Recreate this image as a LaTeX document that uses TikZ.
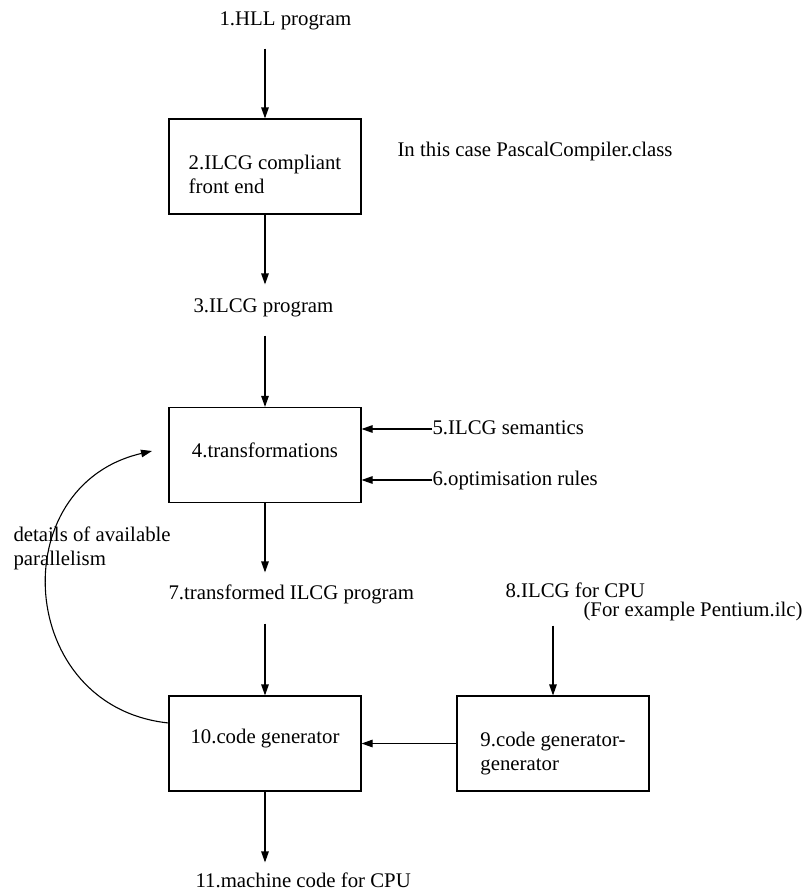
\documentclass[tikz,border=0pt]{standalone}
\usepackage{fontspec}
\setmainfont{Liberation Serif}
\usetikzlibrary{arrows.meta}

\begin{document}
\begin{tikzpicture}[x=1pt, y=-1pt, line width=1.1pt,
  >={Triangle[length=11pt,width=7.5pt]},
  lbl/.style={inner sep=0pt, anchor=base west, text height=14.5pt, text depth=4.5pt,
    font=\fontsize{20.8}{24}\selectfont},
  note/.style={inner sep=0pt, anchor=north west, align=left,
    font=\fontsize{20.8}{24}\selectfont},
  box/.style={draw, minimum width=192pt, minimum height=95pt, inner sep=0pt, align=left,
    font=\fontsize{20.8}{24}\selectfont}]
\useasboundingbox (0,0) rectangle (807,892);
% boxes
\node [box] (b2) at (265,166.5) {\rule{0pt}{29.5pt}2.ILCG compliant\\front end};
\node [box, text depth=10.2pt] (b4) at (265,455) {4.transformations};
\node [box, text depth=15pt] (b10) at (265,743.5) {10.code generator};
\node [box] (b9) at (553,743.5) {\rule{0pt}{35pt}9.code generator-\\generator};
% texts
\node [lbl] (hll) at (219,25) {1.HLL program};
\node [lbl] (pc) at (397,156) {In this case PascalCompiler.class};
\node [lbl] (ilcg) at (193,312) {3.ILCG program};
\node [lbl] (sem) at (432,434) {5.ILCG semantics};
\node [lbl] (opt) at (432,485) {6.optimisation rules};
\node [lbl] (tilcg) at (168,599) {7.transformed ILCG program};
\node [lbl] (cpu) at (505,597) {8.ILCG for CPU};
\node [lbl] (pent) at (583,616) {(For example Pentium.ilc)};
\node [lbl] (mc) at (195,887) {11.machine code for CPU};
\node [note] (par) at (13,525.8) {details of available\\parallelism};
\coordinate (fb) at (152,451);
% arrows
\draw [->, shorten <=18.5pt] (hll.south -| b2.north) -- (b2.north);
\draw [->, shorten >=12.5pt] (b2.south) -- (ilcg.north -| b2.south);
\draw [->, shorten <=18.5pt] (ilcg.south -| b4.north) -- (b4.north);
\draw [->] (sem.west) -- (sem.west -| b4.east);
\draw [->] (opt.west) -- (opt.west -| b4.east);
\draw [->, shorten >=11.5pt] (b4.south) -- (tilcg.north -| b4.south);
\draw [->, shorten <=19.5pt] (tilcg.south -| b10.north) -- (b10.north);
\draw [->, shorten <=23.5pt] (cpu.south -| b9.north) -- (b9.north);
\draw [->] (b9.west) -- (b10.east);
\draw [->, shorten >=9.5pt] (b10.south) -- (mc.north -| b10.south);
\draw [->] (b10.168) to [out=174, in=193, looseness=1.44] (fb); % feedback
\end{tikzpicture}
\end{document}
